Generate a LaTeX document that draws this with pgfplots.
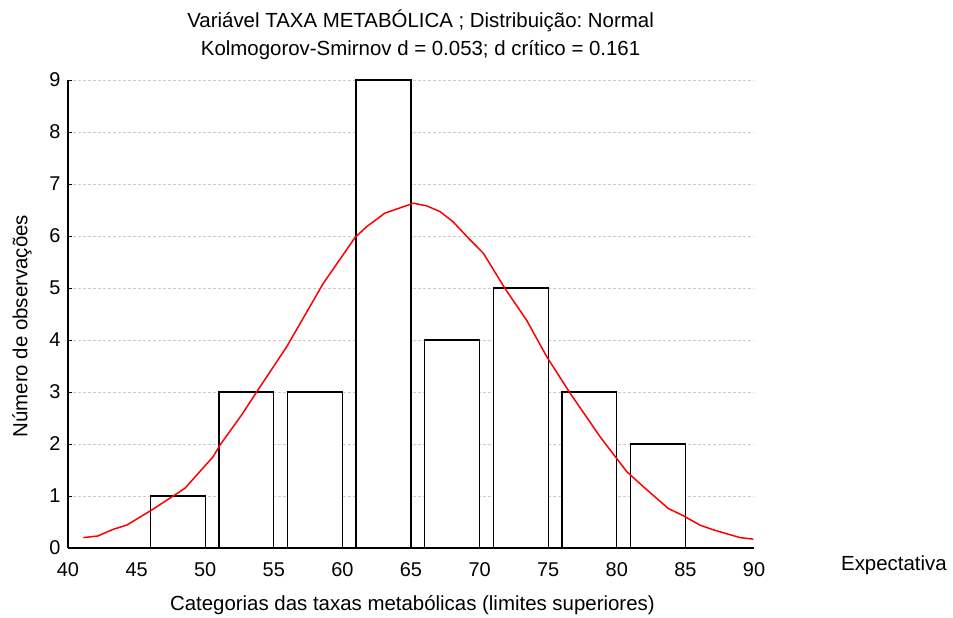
\documentclass[border=0pt]{standalone}
\usepackage{fontspec}
\setmainfont{Liberation Sans}
\usepackage{pgfplots}
\pgfplotsset{compat=1.18}
\frenchspacing
\begin{document}
\frenchspacing
\begin{tikzpicture}
\begin{axis}[
  at={(0,0)}, anchor=south west,
  scale only axis, width=686bp, height=468bp,
  xmin=40, xmax=90, ymin=0, ymax=9,
  axis x line=bottom, axis y line=left,
  axis line style={-, line width=1.8bp, black},
  xtick={40,45,...,90}, ytick={0,1,...,9},
  x tick style={draw=none},
  y tick style={black, line width=1bp},
  tick align=inside, major tick length=4bp,
  ymajorgrids,
  grid style={gray!40, dash pattern=on 3bp off 2bp, line width=0.9bp},
  tick label style={font=\fontsize{20}{24}\selectfont},
  xticklabel style={yshift=-11bp},
  yticklabel style={xshift=-4bp},
  /pgf/number format/assume math mode=true,
  xlabel={Categorias das taxas metabólicas (limites superiores)},
  xlabel style={at={(axis description cs:0.502,-0.122)}, anchor=center, font=\fontsize{20.5}{24}\selectfont},
  ylabel={Número de observações},
  ylabel style={at={(axis description cs:-0.067,0.474)}, anchor=center, font=\fontsize{20.5}{24}\selectfont},
  title={Variável TAXA METABÓLICA ; Distribuição: Normal\\Kolmogorov-Smirnov d = 0.053; d crítico = 0.161},
  title style={at={(axis description cs:0.514,1.084)}, anchor=center, align=center, font=\fontsize{20.5}{29}\selectfont\frenchspacing},
  clip=false,
]
\addplot[ybar, bar width=4, bar shift=0pt, fill=white, draw=black, line width=1.3bp]
  coordinates {(48,1) (53,3) (58,3) (63,9) (68,4) (73,5) (78,3) (83,2)};
\addplot[red, line width=1.5bp, no marks] coordinates {
(41.12,0.20) (42.16,0.23) (43.30,0.36) (44.28,0.44) (46.10,0.73) (47.67,1.00)
(48.53,1.15) (50.59,1.76) (51.08,1.98) (52.66,2.56) (53.75,3.00) (55.94,3.87)
(58.61,5.09) (60.92,5.97) (61.77,6.18) (63.10,6.44) (65.17,6.63) (66.14,6.58)
(67.11,6.47) (68.08,6.27) (69.18,5.96) (70.27,5.67) (71.85,4.99) (73.43,4.38)
(74.89,3.68) (76.59,2.98) (78.78,2.14) (80.72,1.47) (81.93,1.18) (83.75,0.76)
(84.85,0.62) (86.06,0.44) (87.03,0.35) (88.98,0.20) (89.95,0.17)};
\node[anchor=center, font=\fontsize{20.5}{24}\selectfont] at (axis description cs:1.204,-0.036) {Expectativa};
\end{axis}
\pgfresetboundingbox
\path[use as bounding box] (-68bp,-70bp) rectangle (885bp,548bp);
\end{tikzpicture}
\end{document}
